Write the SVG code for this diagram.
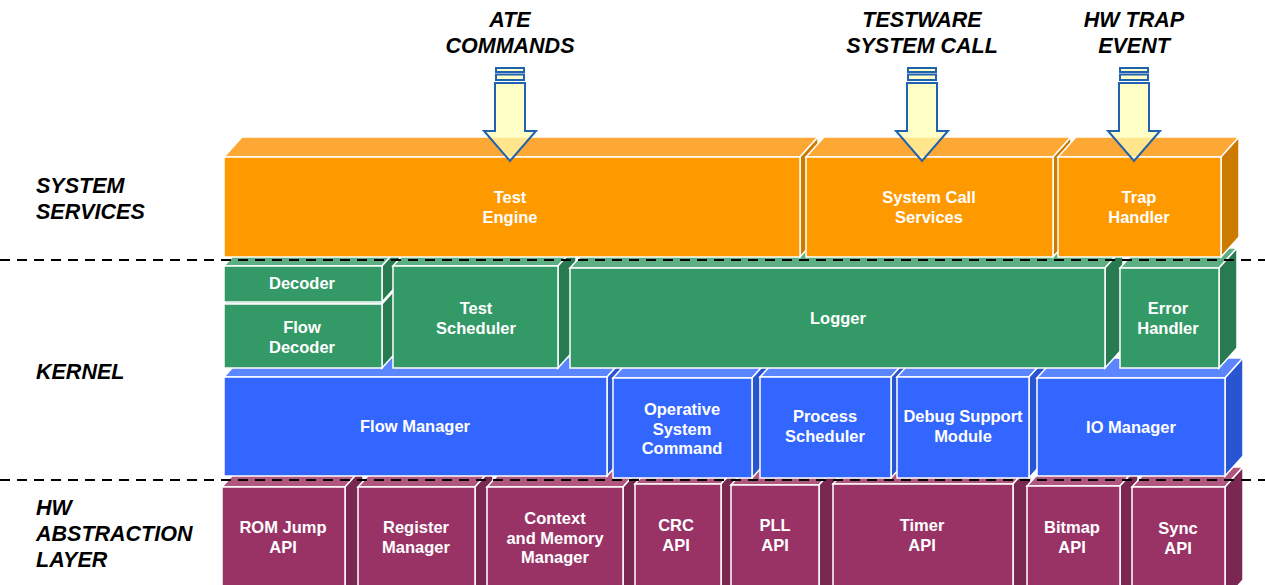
<svg xmlns="http://www.w3.org/2000/svg" width="1265" height="585" viewBox="0 0 1265 585">
<style>
.fr,.tp,.sd{stroke:#fff;stroke-width:1.5;stroke-linejoin:miter}
.o .fr{fill:#FF9900}.o .tp{fill:#FDA834}.o .sd{fill:#CC7A00}
.g .fr{fill:#339966}.g .tp{fill:#5CAF82}.g .sd{fill:#287A50}
.b .fr{fill:#3366FF}.b .tp{fill:#5C86FF}.b .sd{fill:#2A55D2}
.m .fr{fill:#993366}.m .tp{fill:#B0567F}.m .sd{fill:#7A2752}
.lbl{fill:#fff;font-family:"Liberation Sans",Arial,sans-serif;font-weight:bold;font-size:16.5px;text-anchor:middle}
.hd{fill:#000;font-family:"Liberation Sans",Arial,sans-serif;font-weight:bold;font-style:italic;font-size:21.5px}
.hc{text-anchor:middle}
.arr{fill:#FFFFB0;fill-opacity:0.7;stroke:#1F62B0;stroke-width:2}
.sep{stroke:#000;stroke-width:2.2;stroke-dasharray:10 7;fill:none}
</style>
<rect width="1265" height="585" fill="#fff"/>

<g id="layer-labels">
<text class="hd" x="36" y="193">SYSTEM</text>
<text class="hd" x="36" y="219">SERVICES</text>
<text class="hd" x="36" y="379">KERNEL</text>
<text class="hd" x="36" y="515">HW</text>
<text class="hd" x="36" y="541">ABSTRACTION</text>
<text class="hd" x="36" y="567">LAYER</text>
</g>

<g id="hal">
<g id="rom-jump-api" class="m">
<path class="tp" d="M222,487 L240,467 L363,467 L345,487 Z"/><path class="sd" d="M345,487 L363,467 L363,590 L345,600 Z"/><rect class="fr" x="222" y="487" width="123" height="110"/>
<text class="lbl" x="283" y="533">ROM Jump</text><text class="lbl" x="283" y="553">API</text></g>
<g id="register-manager" class="m">
<path class="tp" d="M358,487 L376,467 L493,467 L475,487 Z"/><path class="sd" d="M475,487 L493,467 L493,590 L475,600 Z"/><rect class="fr" x="358" y="487" width="117" height="110"/>
<text class="lbl" x="416" y="533">Register</text><text class="lbl" x="416" y="553">Manager</text></g>
<g id="context-memory-manager" class="m">
<path class="tp" d="M487,487 L505,467 L641,467 L623,487 Z"/><path class="sd" d="M623,487 L641,467 L641,590 L623,600 Z"/><rect class="fr" x="487" y="487" width="136" height="110"/>
<text class="lbl" x="555" y="524">Context</text><text class="lbl" x="555" y="544">and Memory</text><text class="lbl" x="555" y="563">Manager</text></g>
<g id="crc-api" class="m">
<path class="tp" d="M635,484 L653,464 L739,464 L721,484 Z"/><path class="sd" d="M721,484 L739,464 L739,590 L721,600 Z"/><rect class="fr" x="635" y="484" width="86" height="110"/>
<text class="lbl" x="676" y="531">CRC</text><text class="lbl" x="676" y="551">API</text></g>
<g id="pll-api" class="m">
<path class="tp" d="M731,485 L749,465 L837,465 L819,485 Z"/><path class="sd" d="M819,485 L837,465 L837,590 L819,600 Z"/><rect class="fr" x="731" y="485" width="88" height="110"/>
<text class="lbl" x="775" y="531">PLL</text><text class="lbl" x="775" y="551">API</text></g>
<g id="timer-api" class="m">
<path class="tp" d="M833,484 L851,464 L1031,464 L1013,484 Z"/><path class="sd" d="M1013,484 L1031,464 L1031,590 L1013,600 Z"/><rect class="fr" x="833" y="484" width="180" height="110"/>
<text class="lbl" x="922" y="531">Timer</text><text class="lbl" x="922" y="551">API</text></g>
<g id="bitmap-api" class="m">
<path class="tp" d="M1027,486 L1045,466 L1138,466 L1120,486 Z"/><path class="sd" d="M1120,486 L1138,466 L1138,590 L1120,600 Z"/><rect class="fr" x="1027" y="486" width="93" height="110"/>
<text class="lbl" x="1072" y="533">Bitmap</text><text class="lbl" x="1072" y="553">API</text></g>
<g id="sync-api" class="m">
<path class="tp" d="M1132,487 L1150,467 L1243,467 L1225,487 Z"/><path class="sd" d="M1225,487 L1243,467 L1243,580 L1225,600 Z"/><rect class="fr" x="1132" y="487" width="93" height="110"/>
<text class="lbl" x="1178" y="534">Sync</text><text class="lbl" x="1178" y="554">API</text></g>
</g>

<g id="kernel-lower">
<g id="flow-manager" class="b">
<path class="tp" d="M224,377 L242,357 L625,357 L607,377 Z"/><path class="sd" d="M607,377 L625,357 L625,456 L607,476 Z"/><rect class="fr" x="224" y="377" width="383" height="99"/>
<text class="lbl" x="415" y="432">Flow Manager</text></g>
<g id="operative-system-command" class="b">
<path class="tp" d="M613,378 L631,358 L770,358 L752,378 Z"/><path class="sd" d="M752,378 L770,358 L770,458 L752,478 Z"/><rect class="fr" x="613" y="378" width="139" height="100"/>
<text class="lbl" x="682" y="415">Operative</text><text class="lbl" x="682" y="435">System</text><text class="lbl" x="682" y="454">Command</text></g>
<g id="process-scheduler" class="b">
<path class="tp" d="M760,377 L778,357 L909,357 L891,377 Z"/><path class="sd" d="M891,377 L909,357 L909,458 L891,478 Z"/><rect class="fr" x="760" y="377" width="131" height="101"/>
<text class="lbl" x="825" y="422">Process</text><text class="lbl" x="825" y="442">Scheduler</text></g>
<g id="debug-support-module" class="b">
<path class="tp" d="M897,377 L915,357 L1047,357 L1029,377 Z"/><path class="sd" d="M1029,377 L1047,357 L1047,458 L1029,478 Z"/><rect class="fr" x="897" y="377" width="132" height="101"/>
<text class="lbl" x="963" y="422">Debug Support</text><text class="lbl" x="963" y="442">Module</text></g>
<g id="io-manager" class="b">
<path class="tp" d="M1037,378 L1055,358 L1243,358 L1225,378 Z"/><path class="sd" d="M1225,378 L1243,358 L1243,456 L1225,476 Z"/><rect class="fr" x="1037" y="378" width="188" height="98"/>
<text class="lbl" x="1131" y="433">IO Manager</text></g>
</g>

<g id="kernel-upper">
<g id="flow-decoder" class="g">
<path class="tp" d="M224,304 L242,284 L400,284 L382,304 Z"/><path class="sd" d="M382,304 L400,284 L400,348 L382,368 Z"/><rect class="fr" x="224" y="304" width="158" height="64"/>
<text class="lbl" x="302" y="333">Flow</text><text class="lbl" x="302" y="353">Decoder</text></g>
<g id="decoder" class="g">
<path class="tp" d="M224,266 L242,246 L400,246 L382,266 Z"/><path class="sd" d="M382,266 L400,246 L400,282 L382,302 Z"/><rect class="fr" x="224" y="266" width="158" height="36"/>
<text class="lbl" x="302" y="289">Decoder</text></g>
<g id="test-scheduler" class="g">
<path class="tp" d="M393,266 L411,246 L576,246 L558,266 Z"/><path class="sd" d="M558,266 L576,246 L576,348 L558,368 Z"/><rect class="fr" x="393" y="266" width="165" height="102"/>
<text class="lbl" x="476" y="314">Test</text><text class="lbl" x="476" y="334">Scheduler</text></g>
<g id="logger" class="g">
<path class="tp" d="M570,268 L588,248 L1123,248 L1105,268 Z"/><path class="sd" d="M1105,268 L1123,248 L1123,348 L1105,368 Z"/><rect class="fr" x="570" y="268" width="535" height="100"/>
<text class="lbl" x="838" y="324">Logger</text></g>
<g id="error-handler" class="g">
<path class="tp" d="M1120,268 L1138,248 L1237,248 L1219,268 Z"/><path class="sd" d="M1219,268 L1237,248 L1237,348 L1219,368 Z"/><rect class="fr" x="1120" y="268" width="99" height="100"/>
<text class="lbl" x="1168" y="314">Error</text><text class="lbl" x="1168" y="334">Handler</text></g>
</g>

<g id="system-services">
<g id="test-engine" class="o">
<path class="tp" d="M224,157 L242,137 L818,137 L800,157 Z"/><path class="sd" d="M800,157 L818,137 L818,237 L800,257 Z"/><rect class="fr" x="224" y="157" width="576" height="100"/>
<text class="lbl" x="510" y="203">Test</text><text class="lbl" x="510" y="223">Engine</text></g>
<g id="system-call-services" class="o">
<path class="tp" d="M806,157 L824,137 L1071,137 L1053,157 Z"/><path class="sd" d="M1053,157 L1071,137 L1071,237 L1053,257 Z"/><rect class="fr" x="806" y="157" width="247" height="100"/>
<text class="lbl" x="929" y="203">System Call</text><text class="lbl" x="929" y="223">Services</text></g>
<g id="trap-handler" class="o">
<path class="tp" d="M1058,157 L1076,137 L1239,137 L1221,157 Z"/><path class="sd" d="M1221,157 L1239,137 L1239,237 L1221,257 Z"/><rect class="fr" x="1058" y="157" width="163" height="100"/>
<text class="lbl" x="1139" y="203">Trap</text><text class="lbl" x="1139" y="223">Handler</text></g>
</g>

<g id="inputs">
<text class="hd hc" x="510" y="27">ATE</text><text class="hd hc" x="510" y="53">COMMANDS</text>
<text class="hd hc" x="922" y="27">TESTWARE</text><text class="hd hc" x="922" y="53">SYSTEM CALL</text>
<text class="hd hc" x="1134" y="27">HW TRAP</text><text class="hd hc" x="1134" y="53">EVENT</text>
</g>

<g id="connectors">
<g id="arrow-ate">
<rect class="arr" x="496" y="68" width="28" height="4"/><rect class="arr" x="496" y="74.5" width="28" height="5.5"/>
<path class="arr" d="M495,83 L525,83 L525,131 L536,131 L510,161 L484,131 L495,131 Z"/></g>
<g id="arrow-testware">
<rect class="arr" x="908" y="68" width="28" height="4"/><rect class="arr" x="908" y="74.5" width="28" height="5.5"/>
<path class="arr" d="M907,83 L937,83 L937,131 L948,131 L922,161 L896,131 L907,131 Z"/></g>
<g id="arrow-hwtrap">
<rect class="arr" x="1120" y="68" width="28" height="4"/><rect class="arr" x="1120" y="74.5" width="28" height="5.5"/>
<path class="arr" d="M1119,83 L1149,83 L1149,131 L1160,131 L1134,161 L1108,131 L1119,131 Z"/></g>
</g>

<g id="separators">
<line class="sep" x1="0" y1="260" x2="1265" y2="260"/>
<line class="sep" x1="0" y1="480" x2="1265" y2="480"/>
</g>
</svg>
